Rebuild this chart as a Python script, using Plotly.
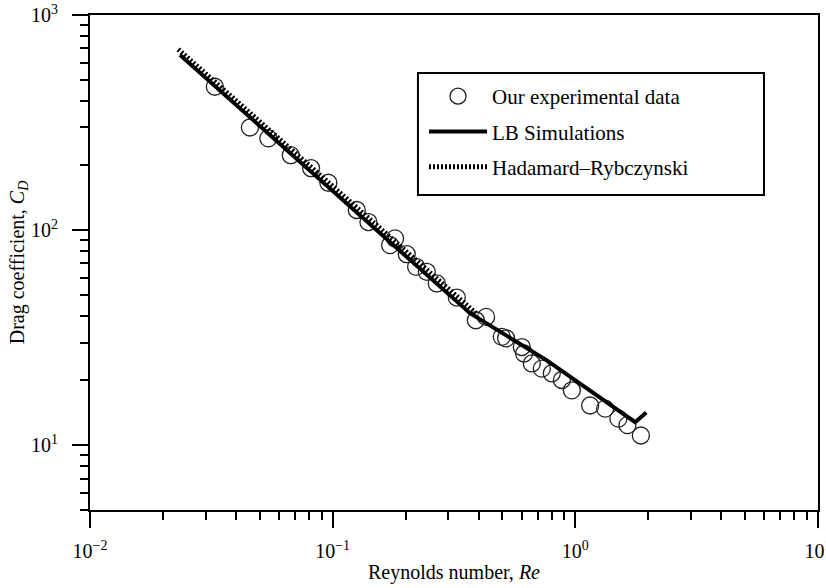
import plotly.graph_objects as go

# Experimental data (Reynolds number, drag coefficient)
exp_re = [0.0327, 0.0456, 0.0543, 0.0672, 0.0815, 0.096, 0.1257, 0.1404, 0.1808, 0.1724,
          0.202, 0.2207, 0.2443, 0.2686, 0.3248, 0.389, 0.4287, 0.4977, 0.5185, 0.6018,
          0.615, 0.6617, 0.7277, 0.80, 0.880, 0.967, 1.151, 1.327, 1.505, 1.64, 1.862]
exp_cd = [464, 300, 267, 223, 194, 166, 124, 109, 91.5, 85.2,
          77.3, 67.5, 64.0, 56.5, 48.6, 38.1, 39.5, 31.9, 31.4, 28.6,
          26.7, 24.0, 22.7, 21.6, 20.1, 18.0, 15.3, 14.8, 13.3, 12.4, 11.1]

# LB simulations
lb_re = [0.0235, 0.368, 0.763, 1.15, 1.764, 1.96]
lb_cd = [652, 41.1, 24.8, 18.0, 12.8, 14.2]

# Hadamard-Rybczynski
hr_re = [0.0231, 0.39]
hr_cd = [692, 41.0]

x_tickvals = [0.01, 0.1, 1, 10]
x_ticktext = ["10<sup>\u22122</sup>", "10<sup>\u22121</sup>", "10<sup>0</sup>", "10<sup>1</sup>"]
y_tickvals = [10, 100, 1000]
y_ticktext = ["10<sup>1</sup>", "10<sup>2</sup>", "10<sup>3</sup>"]

x_minor = [m * d for d in (0.01, 0.1, 1) for m in range(2, 10)]
y_minor = [5, 6, 7, 8, 9] + [m * d for d in (10, 100) for m in range(2, 10)]

FONT = "Liberation Serif"

fig = go.Figure()
fig.add_trace(go.Scatter(
    x=exp_re, y=exp_cd, mode="markers", name="Our experimental data",
    legendgroup="a",
    marker=dict(symbol="circle-open", size=17, color="#222", line=dict(width=1.3, color="#222")),
))
fig.add_trace(go.Scatter(
    x=lb_re, y=lb_cd, mode="lines", name="LB Simulations", legendgroup="b",
    line=dict(color="black", width=4),
))
fig.add_trace(go.Scatter(
    x=hr_re, y=hr_cd, mode="lines", name="Hadamard\u2013Rybczynski", legendgroup="c",
    line=dict(color="black", width=5, dash="2px,2px"),
))

axis_common = dict(
    type="log", showgrid=False, zeroline=False, showline=True, linecolor="black",
    linewidth=2, mirror=True, ticks="outside", ticklen=16, tickwidth=2, tickcolor="black",
    tickfont=dict(family=FONT, size=20, color="black"),
    ticklabeloverflow="allow", automargin=False,
)

fig.update_layout(
    width=826, height=588,
    margin=dict(l=90, r=8, t=15, b=78),
    paper_bgcolor="white", plot_bgcolor="white",
    font=dict(family=FONT, color="black"),
    xaxis=dict(
        range=[-2, 1], tickvals=x_tickvals, ticktext=x_ticktext,
        minor=dict(ticks="outside", ticklen=8, tickwidth=2, tickcolor="black", tickvals=x_minor),
        title=dict(text="Reynolds number, <i>Re</i>", font=dict(family=FONT, size=20, color="black"),
                   standoff=4),
        ticklabelstandoff=6,
        **axis_common,
    ),
    yaxis=dict(
        range=[0.69897, 3], tickvals=y_tickvals, ticktext=y_ticktext,
        minor=dict(ticks="outside", ticklen=8, tickwidth=2, tickcolor="black", tickvals=y_minor),
        title=dict(text="Drag coefficient, <i>C<sub>D</sub></i>", font=dict(family=FONT, size=20, color="black"),
                   standoff=1),
        ticklabelstandoff=10,
        **axis_common,
    ),
    showlegend=True,
    legend=dict(
        x=0.4588, y=0.8768, xanchor="left", yanchor="top",
        borderwidth=0, bgcolor="rgba(0,0,0,0)",
        font=dict(family=FONT, size=21, color="black"),
        traceorder="grouped", tracegroupgap=5, itemwidth=58,
    ),
    shapes=[dict(type="rect", xref="paper", yref="paper",
                 x0=0.4505, x1=0.9258, y0=0.6364, y1=0.8828,
                 line=dict(color="black", width=2), fillcolor="white", layer="below")],
)

fig.write_html("out.html")
